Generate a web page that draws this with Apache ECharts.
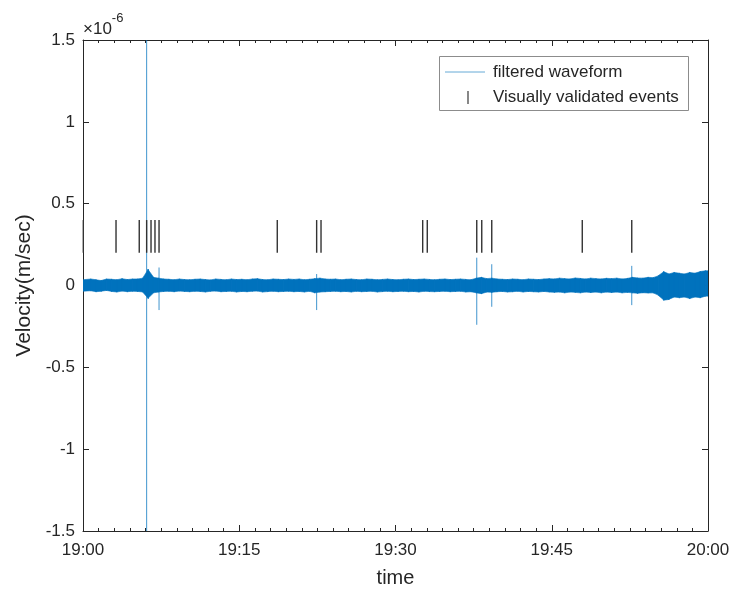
<!DOCTYPE html>
<html>
<head>
<meta charset="utf-8">
<script src="https://cdn.jsdelivr.net/npm/echarts@6/dist/echarts.min.js"></script>
<style>
  html, body { margin: 0; padding: 0; background: #fff; }
  #chart { width: 735px; height: 594px; }
</style>
</head>
<body>
<div id="chart"></div>
<script>
// Time axis: minutes after 19:00; velocities in units of 1e-6 m/s.
const timeTickLabels = ['19:00', '19:15', '19:30', '19:45', '20:00'];
const binWidth = 0.5; // minutes per envelope bin

// Upper / lower envelope of the filtered waveform, one value per 0.5-minute bin.
const envelopeHigh = [
  0.035, 0.040, 0.035, 0.030, 0.040, 0.038, 0.035, 0.042, 0.036, 0.040,
  0.040, 0.045, 0.100, 0.050, 0.045, 0.040, 0.038, 0.035, 0.040, 0.036,
  0.035, 0.038, 0.040, 0.036, 0.034, 0.040, 0.037, 0.035, 0.040, 0.036,
  0.038, 0.035, 0.040, 0.042, 0.036, 0.035, 0.040, 0.038, 0.036, 0.040,
  0.037, 0.040, 0.035, 0.038, 0.042, 0.045, 0.040, 0.038, 0.040, 0.035,
  0.038, 0.040, 0.036, 0.035, 0.040, 0.038, 0.035, 0.037, 0.040, 0.036,
  0.035, 0.038, 0.040, 0.036, 0.038, 0.040, 0.037, 0.035, 0.038, 0.040,
  0.036, 0.038, 0.040, 0.037, 0.035, 0.045, 0.050, 0.042, 0.045, 0.040,
  0.038, 0.036, 0.040, 0.038, 0.035, 0.040, 0.038, 0.036, 0.040, 0.042,
  0.040, 0.045, 0.042, 0.040, 0.046, 0.043, 0.040, 0.045, 0.042, 0.040,
  0.044, 0.042, 0.045, 0.040, 0.043, 0.050, 0.046, 0.045, 0.050, 0.048,
  0.060, 0.085, 0.070, 0.080, 0.075, 0.070, 0.080, 0.075, 0.085, 0.090
];
const envelopeLow = [
  -0.035, -0.032, -0.038, -0.035, -0.030, -0.036, -0.040, -0.034, -0.038, -0.035,
  -0.036, -0.040, -0.080, -0.045, -0.040, -0.036, -0.035, -0.038, -0.034, -0.036,
  -0.038, -0.035, -0.036, -0.040, -0.035, -0.034, -0.038, -0.036, -0.035, -0.040,
  -0.036, -0.038, -0.035, -0.034, -0.040, -0.037, -0.035, -0.038, -0.036, -0.035,
  -0.038, -0.036, -0.040, -0.035, -0.045, -0.040, -0.038, -0.036, -0.035, -0.038,
  -0.036, -0.040, -0.035, -0.038, -0.036, -0.035, -0.040, -0.037, -0.035, -0.038,
  -0.036, -0.035, -0.038, -0.036, -0.040, -0.035, -0.037, -0.038, -0.036, -0.035,
  -0.038, -0.036, -0.035, -0.040, -0.038, -0.045, -0.050, -0.040, -0.042, -0.038,
  -0.036, -0.040, -0.038, -0.035, -0.040, -0.036, -0.038, -0.040, -0.036, -0.040,
  -0.042, -0.040, -0.045, -0.040, -0.042, -0.045, -0.040, -0.043, -0.040, -0.045,
  -0.040, -0.043, -0.040, -0.045, -0.042, -0.045, -0.048, -0.044, -0.046, -0.045,
  -0.060, -0.090, -0.085, -0.070, -0.075, -0.070, -0.080, -0.070, -0.075, -0.065
];

// Short-lived transients in the waveform: minute, peak, trough.
const spikeTimes = [6.11, 7.30, 22.43, 37.80, 39.24, 52.68];
const spikeHigh  = [1.60, 0.11, 0.07, 0.17, 0.13, 0.12];
const spikeLow   = [-1.60, -0.15, -0.15, -0.24, -0.13, -0.12];

// Visually validated events (minutes after 19:00), drawn as markers spanning 0.2..0.4.
const eventTimes = [0.03, 3.17, 5.40, 6.11, 6.53, 6.91, 7.30, 18.65, 22.43, 22.85,
                    32.61, 33.05, 37.80, 38.28, 39.24, 47.93, 52.68];
const eventLow = 0.2;
const eventHigh = 0.4;

const waveColor = '#0072BD';
const inkColor = '#262626';
const fontFamily = '"Liberation Sans", Arial, Helvetica, sans-serif';

const bandData = envelopeHigh.map((h, i) => [i * binWidth, h, envelopeLow[i]]);
const spikeData = spikeTimes.map((t, i) => [t, spikeHigh[i], spikeLow[i]]);
const eventData = eventTimes.map(t => [t, eventLow, eventHigh]);

const chart = echarts.init(document.getElementById('chart'), null, { renderer: 'canvas' });

const gridLeft = 83, gridRight = 27, gridTop = 40, gridBottom = 63;
const xMin = 0, xMax = 60;

function xAxisBase(position) {
  return {
    type: 'value', position: position, min: xMin, max: xMax, interval: 15,
    axisLine: { show: true, onZero: false, lineStyle: { color: inkColor, width: 1 } },
    axisTick: { show: true, inside: true, length: 6, lineStyle: { color: inkColor } },
    minorTick: { show: true, splitNumber: 10, length: 3, lineStyle: { color: inkColor } },
    splitLine: { show: false },
    minorSplitLine: { show: false }
  };
}
function yAxisBase(position) {
  return {
    type: 'value', position: position, min: -1.5, max: 1.5, interval: 0.5,
    axisLine: { show: true, onZero: false, lineStyle: { color: inkColor, width: 1 } },
    axisTick: { show: true, inside: true, length: 6, lineStyle: { color: inkColor } },
    splitLine: { show: false }
  };
}

// Each envelope bin is joined to the next one at the bin centres, so the band reads as one trace.
function renderBand(params, api) {
  const i = params.dataIndex;
  const last = bandData.length - 1;
  const tc = api.value(0) + binWidth / 2;
  const hi = api.value(1), lo = api.value(2);
  const left = i === 0 ? xMin : tc;
  let right, hiN, loN;
  if (i === last) { right = xMax; hiN = hi; loN = lo; }
  else { right = bandData[i + 1][0] + binWidth / 2; hiN = bandData[i + 1][1]; loN = bandData[i + 1][2]; }
  const pts = [
    api.coord([left, hi]), api.coord([right, hiN]),
    api.coord([right, loN]), api.coord([left, lo])
  ];
  pts[0][0] -= 0.3; pts[3][0] -= 0.3; pts[1][0] += 0.3; pts[2][0] += 0.3;
  return {
    type: 'polygon',
    shape: { points: pts },
    style: { fill: waveColor, stroke: waveColor, lineWidth: 0.6 }
  };
}

const option = {
  backgroundColor: '#fff',
  animation: false,
  grid: { left: gridLeft, right: gridRight, top: gridTop, bottom: gridBottom, containLabel: false },
  xAxis: [
    Object.assign(xAxisBase('bottom'), {
      name: 'time', nameLocation: 'middle', nameGap: 37,
      nameTextStyle: { color: inkColor, fontSize: 20, fontFamily: fontFamily },
      axisLabel: {
        color: inkColor, fontSize: 17, fontFamily: fontFamily, margin: 11,
        formatter: v => timeTickLabels[Math.round(v / 15)]
      }
    }),
    Object.assign(xAxisBase('top'), { axisLabel: { show: false } })
  ],
  yAxis: [
    Object.assign(yAxisBase('left'), {
      name: 'Velocity(m/sec)', nameLocation: 'middle', nameGap: 44, nameRotate: 90,
      nameTextStyle: { color: inkColor, fontSize: 21, fontFamily: fontFamily },
      axisLabel: {
        color: inkColor, fontSize: 17, fontFamily: fontFamily, margin: 8,
        formatter: v => String(v)
      }
    }),
    Object.assign(yAxisBase('right'), { axisLabel: { show: false } })
  ],
  series: [
    {
      name: 'filtered waveform',
      type: 'custom',
      clip: true,
      xAxisIndex: 0, yAxisIndex: 0,
      data: bandData,
      renderItem: renderBand
    },
    {
      name: 'filtered waveform',
      type: 'custom',
      clip: true,
      xAxisIndex: 0, yAxisIndex: 0,
      data: spikeData,
      renderItem: function (params, api) {
        const p1 = api.coord([api.value(0), api.value(1)]);
        const p2 = api.coord([api.value(0), api.value(2)]);
        return {
          type: 'line',
          shape: { x1: p1[0], y1: p1[1], x2: p2[0], y2: p2[1] },
          style: { stroke: waveColor, lineWidth: 1, opacity: 0.75 }
        };
      }
    },
    {
      name: 'Visually validated events',
      type: 'custom',
      clip: false,
      xAxisIndex: 0, yAxisIndex: 0,
      data: eventData,
      renderItem: function (params, api) {
        const p1 = api.coord([api.value(0), api.value(1)]);
        const p2 = api.coord([api.value(0), api.value(2)]);
        return {
          type: 'line',
          shape: { x1: p1[0], y1: p1[1], x2: p2[0], y2: p2[1] },
          style: { stroke: '#333', lineWidth: 1.4 }
        };
      }
    }
  ],
  graphic: [
    // exponent label of the y axis
    {
      type: 'text', left: 83, top: 12,
      style: {
        text: '{b|×10}{e|-6}',
        rich: {
          b: { fontSize: 17, fontFamily: fontFamily, fill: inkColor, padding: [9, 0, 0, 0] },
          e: { fontSize: 13, fontFamily: fontFamily, fill: inkColor, verticalAlign: 'top' }
        }
      }
    },
    // legend box
    {
      type: 'rect', shape: { x: 439.5, y: 56.5, width: 249, height: 54 },
      style: { fill: '#fff', stroke: '#8c8c8c', lineWidth: 1 }, z: 10
    },
    {
      type: 'line', shape: { x1: 445, y1: 72, x2: 485, y2: 72 },
      style: { stroke: waveColor, lineWidth: 1, opacity: 0.6 }, z: 11
    },
    {
      type: 'text', x: 493, y: 72, z: 11,
      style: { text: 'filtered waveform', fontSize: 17, fontFamily: fontFamily, fill: inkColor, verticalAlign: 'middle' }
    },
    {
      type: 'line', shape: { x1: 468, y1: 91, x2: 468, y2: 104 },
      style: { stroke: '#555', lineWidth: 1.4 }, z: 11
    },
    {
      type: 'text', x: 493, y: 97, z: 11,
      style: { text: 'Visually validated events', fontSize: 17, fontFamily: fontFamily, fill: inkColor, verticalAlign: 'middle' }
    }
  ]
};

chart.setOption(option);
</script>
</body>
</html>
